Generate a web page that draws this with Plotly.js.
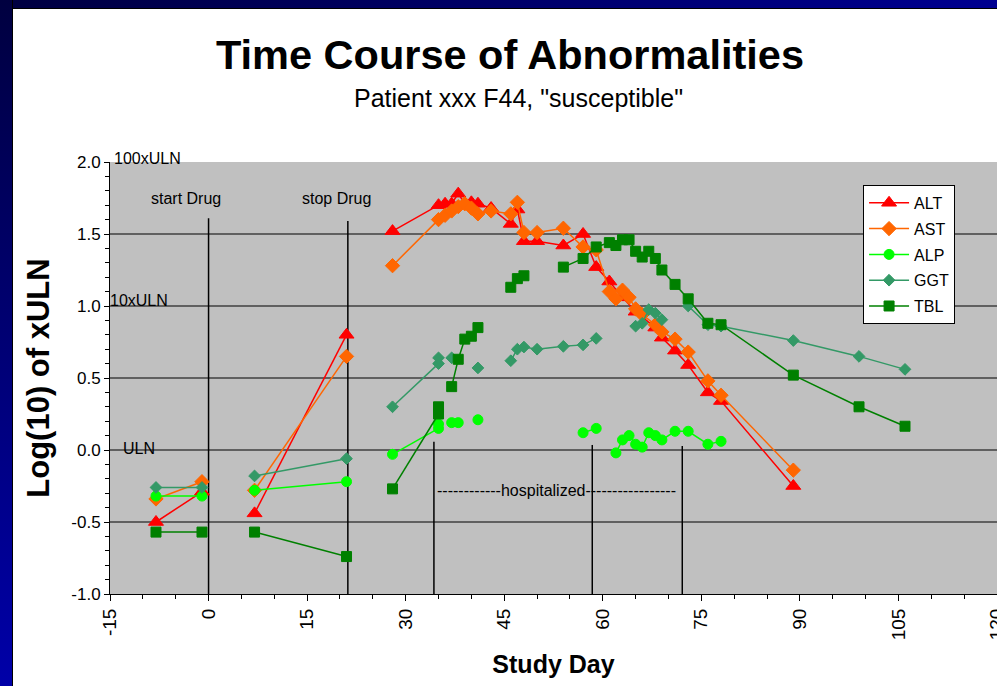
<!DOCTYPE html>
<html>
<head>
<meta charset="utf-8">
<script src="https://cdn.plot.ly/plotly-3.0.1.min.js"></script>
<style>
  html, body { margin:0; padding:0; background:#ffffff; }
  #wrap { position:relative; width:997px; height:686px; overflow:hidden; background:#ffffff; }
  #chart { position:absolute; left:0; top:0; width:997px; height:686px; }
  #bTop { position:absolute; left:0; top:0; width:997px; height:8px; background:linear-gradient(to right,#000040,#000090); border-bottom:1px solid #000; z-index:5; }
  #bLeft { position:absolute; left:0; top:0; width:12px; height:686px; background:linear-gradient(to bottom,#000040,#0000A8); border-right:1px solid #000; z-index:6; }
</style>
</head>
<body>
<div id="wrap">
  <div id="chart"></div>
  <div id="bTop"></div>
  <div id="bLeft"></div>
</div>
<script>
// ---- data (Study Day, log10 of xULN); null = break in the line ----
const altDays = [-8,-1,null,7,21,null,28,35,36,37,38,39,40,41,43,46,47,48,50,54,57,59,61,63,65,68,69,71,73,76,78,89];
const altVals = [-0.50,-0.29,null,-0.44,0.80,null,1.52,1.70,1.71,1.71,1.78,1.71,1.72,1.71,1.68,1.57,1.67,1.45,1.45,1.42,1.50,1.27,1.17,1.06,0.96,0.85,0.78,0.69,0.59,0.40,0.34,-0.25];

const astDays = [-8,-1,null,7,21,null,28,35,36,37,38,39,40,41,43,46,47,48,50,54,57,59,61,62,63,64,65,66,68,69,71,73,76,78,89];
const astVals = [-0.34,-0.22,null,-0.28,0.65,null,1.28,1.60,1.63,1.66,1.69,1.71,1.68,1.64,1.66,1.64,1.72,1.51,1.51,1.54,1.41,1.39,1.10,1.05,1.11,1.06,0.98,0.94,0.87,0.82,0.77,0.68,0.48,0.38,-0.14];

const alpDays = [-8,-1,null,7,21,null,28,35,null,35,null,37,null,38,null,41,null,57,59,null,62,63,64,65,66,67,68,69,71,73,76,78];
const alpVals = [-0.32,-0.32,null,-0.28,-0.22,null,-0.03,0.15,null,0.18,null,0.19,null,0.19,null,0.21,null,0.12,0.15,null,-0.02,0.07,0.10,0.04,0.02,0.12,0.10,0.07,0.13,0.13,0.04,0.06];

const ggtDays = [-8,-1,null,7,21,null,28,35,null,35,null,37,null,41,null,46,47,48,50,54,57,59,null,65,66,67,68,69,null,73,76,78,89,99,106];
const ggtVals = [-0.26,-0.26,null,-0.18,-0.06,null,0.30,0.60,null,0.64,null,0.64,null,0.57,null,0.62,0.70,0.715,0.70,0.72,0.73,0.775,null,0.86,0.88,0.975,0.95,0.905,null,1.00,0.87,0.86,0.76,0.65,0.56];

const tblDays = [-8,-1,null,7,21,null,28,35,null,35,null,37,38,39,40,41,null,46,47,48,null,54,57,59,61,62,63,64,65,66,67,68,69,71,73,76,78,89,99,106];
const tblVals = [-0.57,-0.57,null,-0.57,-0.74,null,-0.27,0.25,null,0.30,null,0.44,0.63,0.77,0.79,0.85,null,1.13,1.19,1.21,null,1.27,1.33,1.41,1.44,1.42,1.46,1.46,1.38,1.34,1.38,1.33,1.25,1.15,1.05,0.88,0.87,0.52,0.30,0.165];

const seriesNames = ['ALT','AST','ALP','GGT','TBL'];
const xTickVals = [-15,0,15,30,45,60,75,90,105,120];
const yTickVals = [-1.0,-0.5,0.0,0.5,1.0,1.5,2.0];
const gridVals = [-0.5,0.0,0.5,1.0,1.5];

// event markers: day, top of line (log units)
const eventDays = [0, 21.2, 34.3, 58.4, 72.1];
const eventTops = [1.61, 1.59, 0.058, 0.035, 0.028];

// ---- styles ----
const FONT = 'Liberation Sans, Arial, Helvetica, sans-serif';
const styles = [
  {color:'#FF0000', symbol:'triangle-up', size:13},
  {color:'#FF6600', symbol:'diamond', size:11},
  {color:'#00FF00', symbol:'circle', size:10},
  {color:'#339966', symbol:'diamond', size:9},
  {color:'#008000', symbol:'square', size:10}
];
const xs = [altDays, astDays, alpDays, ggtDays, tblDays];
const ys = [altVals, astVals, alpVals, ggtVals, tblVals];

const traces = seriesNames.map((n,i)=>({
  type:'scatter', mode:'lines+markers', name:n, legendgroup:n,
  x: xs[i], y: ys[i], connectgaps:false, cliponaxis:false,
  line:{color:styles[i].color, width:1.5},
  marker:{color:styles[i].color, symbol:styles[i].symbol, size:styles[i].size,
          line:{color:styles[i].color, width:1}}
}));

const shapes = [];
gridVals.forEach(v=>shapes.push({type:'line', xref:'x', yref:'y', x0:-15, x1:120, y0:v, y1:v,
  line:{color:'#000', width:1}, layer:'below'}));
eventDays.forEach((d,i)=>shapes.push({type:'line', xref:'x', yref:'y', x0:d, x1:d, y0:-1, y1:eventTops[i],
  line:{color:'#000', width:1.5}, layer:'below'}));

const annotations = [
  {text:'Patient xxx F44, "susceptible"', xref:'paper', yref:'paper', x:0.461, y:1.148, showarrow:false,
   xanchor:'center', yanchor:'middle', font:{size:25}},
  {text:'start Drug', xref:'x', yref:'y', x:-3.4, y:1.75, showarrow:false, xanchor:'center', yanchor:'middle', font:{size:16}},
  {text:'stop Drug', xref:'x', yref:'y', x:19.5, y:1.75, showarrow:false, xanchor:'center', yanchor:'middle', font:{size:16}},
  {text:'100xULN', xref:'paper', yref:'paper', x:0.002, y:1.007, showarrow:false, xanchor:'left', yanchor:'middle', font:{size:16}},
  {text:'10xULN', xref:'paper', yref:'paper', x:-0.002, y:0.68, showarrow:false, xanchor:'left', yanchor:'middle', font:{size:16}},
  {text:'ULN', xref:'x', yref:'y', x:-13.3, y:0.01, showarrow:false, xanchor:'left', yanchor:'middle', font:{size:16}},
  {text:'------------hospitalized-----------------', xref:'x', yref:'y', x:53.0, y:-0.28, showarrow:false,
   xanchor:'center', yanchor:'middle', font:{size:16}}
];

const layout = {
  width:997, height:686,
  margin:{l:110, r:0, t:162, b:92, pad:0},
  paper_bgcolor:'rgba(0,0,0,0)', plot_bgcolor:'#C0C0C0',
  font:{family:FONT, color:'#000', size:16},
  showlegend:true,
  title:{text:'<b>Time Course of Abnormalities</b>', font:{size:41.5, family:FONT, color:'#000'},
         xref:'container', yref:'container', x:0.5115, y:0.92, xanchor:'center', yanchor:'middle'},
  xaxis:{range:[-15,120], tickmode:'array', tickvals:xTickVals, ticktext:xTickVals.map(String),
         ticks:'outside', ticklen:6, tickwidth:1, tickcolor:'#000', tickangle:-90, ticklabeloverflow:'allow',
         tickfont:{size:19}, showline:true, linecolor:'#000', linewidth:1, showgrid:false, zeroline:false,
         minor:{dtick:5, tick0:-15, ticks:'outside', ticklen:4, tickcolor:'#000', showgrid:false},
         title:{text:'<b>Study Day</b>', font:{size:25}, standoff:16}, automargin:false, fixedrange:true},
  yaxis:{range:[-1,2], tickmode:'array', tickvals:yTickVals, ticktext:yTickVals.map(v=>v.toFixed(1)),
         ticks:'outside', ticklen:5, tickwidth:1, tickcolor:'#000', tickfont:{size:17},
         showline:true, linecolor:'#000', linewidth:1, showgrid:false, zeroline:false,
         minor:{dtick:0.1, tick0:-1, ticks:'outside', ticklen:4, tickcolor:'#000', showgrid:false},
         title:{text:'<b>Log(10) of xULN</b>', font:{size:31}, standoff:12}, automargin:false, fixedrange:true},
  legend:{x:0.849, y:0.947, xanchor:'left', yanchor:'top', bgcolor:'#FFFFFF', bordercolor:'#000', borderwidth:1,
          font:{size:16}, itemwidth:40, traceorder:'grouped', tracegroupgap:2},
  shapes:shapes, annotations:annotations
};

Plotly.newPlot('chart', traces, layout, {displayModeBar:false, staticPlot:true});
</script>
</body>
</html>
